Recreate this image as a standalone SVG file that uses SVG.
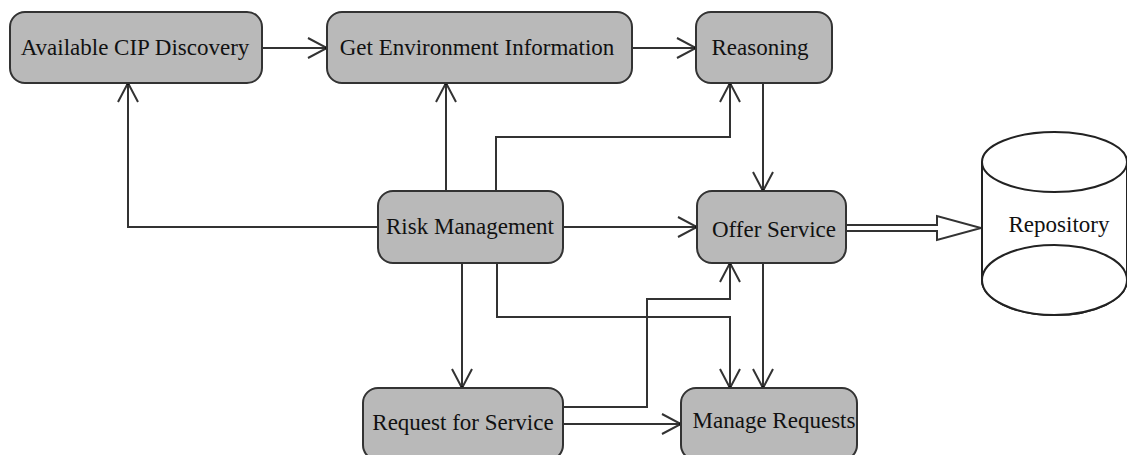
<svg xmlns="http://www.w3.org/2000/svg" width="1127" height="455" viewBox="0 0 1127 455">
  <style>
    .box { fill: #b9b9b9; stroke: #333; stroke-width: 2; }
    .label { font-family: "Liberation Serif", "Times New Roman", serif; font-size: 23px; fill: #111; text-anchor: middle; }
    .edge { fill: none; stroke: #333; stroke-width: 2; marker-end: url(#open); }
    .db { fill: #fff; stroke: #222; stroke-width: 2; }
  </style>
  <defs>
    <marker id="open" viewBox="0 0 22 22" markerWidth="22" markerHeight="22" markerUnits="userSpaceOnUse" refX="20" refY="11" orient="auto">
      <path d="M1,1 L20,11 L1,21" fill="none" stroke="#333" stroke-width="2"/>
      <circle cx="19.5" cy="11" r="1.8" fill="#111"/>
    </marker>
  </defs>
  <rect width="1127" height="455" fill="#fff"/>

  <!-- connectors -->
  <g id="connectors">
    <path class="edge" d="M262,48 H327"/>
    <path class="edge" d="M632,48 H696"/>
    <path class="edge" d="M378,227 H128 V83"/>
    <path class="edge" d="M446,191 V83"/>
    <path class="edge" d="M496,191 V137 H730 V83"/>
    <path class="edge" d="M763,83 V191"/>
    <path class="edge" d="M563,227 H697"/>
    <path class="edge" d="M462,263 V388"/>
    <path class="edge" d="M497,263 V317 H730 V388"/>
    <path class="edge" d="M763,263 V388"/>
    <path class="edge" d="M563,407 H647 V299 H730 V263"/>
    <path class="edge" d="M563,424 H681"/>
    <!-- hollow arrow into repository -->
    <path d="M846,225 H937 V216 L981,228 L937,240 V231 H846" fill="#fff" stroke="#333" stroke-width="2" stroke-linejoin="miter"/>
  </g>

  <g id="cip-discovery">
    <rect class="box" x="10" y="12" width="252" height="71" rx="15"/>
    <text class="label" x="135" y="55">Available CIP Discovery</text>
  </g>
  <g id="get-environment">
    <rect class="box" x="327" y="12" width="305" height="71" rx="15"/>
    <text class="label" x="477" y="55">Get Environment Information</text>
  </g>
  <g id="reasoning">
    <rect class="box" x="696" y="12" width="136" height="71" rx="15"/>
    <text class="label" x="760" y="55">Reasoning</text>
  </g>
  <g id="risk-management">
    <rect class="box" x="378" y="191" width="185" height="72" rx="15"/>
    <text class="label" x="470" y="234">Risk Management</text>
  </g>
  <g id="offer-service">
    <rect class="box" x="697" y="191" width="149" height="72" rx="15"/>
    <text class="label" x="774" y="237">Offer Service</text>
  </g>
  <g id="request-service">
    <rect class="box" x="363" y="388" width="200" height="72" rx="15"/>
    <text class="label" x="463" y="430">Request for Service</text>
  </g>
  <g id="manage-requests">
    <rect class="box" x="681" y="388" width="176" height="72" rx="15"/>
    <text class="label" x="774" y="428">Manage Requests</text>
  </g>
  <g id="repository">
    <path class="db" d="M982,162 V280 A72.5,35 0 0 0 1127,280 V162"/>
    <ellipse class="db" cx="1054.5" cy="162" rx="72.5" ry="30"/>
    <ellipse class="db" cx="1054.5" cy="280" rx="72.5" ry="35"/>
    <text class="label" x="1059" y="232">Repository</text>
  </g>
</svg>
